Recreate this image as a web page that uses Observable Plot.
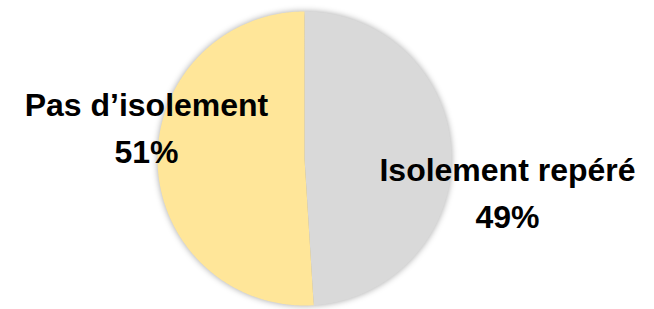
<!DOCTYPE html>
<html>
<head>
<meta charset="utf-8">
<script src="https://cdn.jsdelivr.net/npm/d3@7"></script>
<script src="https://cdn.jsdelivr.net/npm/@observablehq/plot@0.6"></script>
<style>
  html, body { margin: 0; padding: 0; background: #fff; }
  #chart { width: 654px; height: 309px; }
</style>
</head>
<body>
<div id="chart"></div>
<script>
// Data
const categories = ["Isolement repéré", "Pas d'isolement"];
const labelsText = ["Isolement repéré", "Pas d\u2019isolement"];
const values = [49, 51];
const colors = ["#D9D9D9", "#FFE699"];

// Layout constants (label placement relative to slice mid-angle)
const labelRadius = [1.397, 1.0996];
const labelAngleOffset = [10.5, 13.9];

const rows = categories.map((c, i) => ({category: c, label: labelsText[i], value: values[i], color: colors[i]}));
const arcs = d3.pie().sort(null).value(d => d.value)(rows);

function wedge(a0, a1) {
  const pts = [[0, 0]];
  const n = Math.max(2, Math.ceil((a1 - a0) / (Math.PI / 360)));
  for (let k = 0; k <= n; k++) {
    const a = a0 + (a1 - a0) * k / n;
    pts.push([Math.sin(a), Math.cos(a)]);
  }
  pts.push([0, 0]);
  return pts;
}

const features = arcs.map(a => ({
  type: "Feature",
  properties: a.data,
  geometry: {type: "Polygon", coordinates: [wedge(a.startAngle, a.endAngle)]}
}));

const labelData = arcs.map((a, i) => {
  const mid = (a.startAngle + a.endAngle) / 2 + labelAngleOffset[i] * Math.PI / 180;
  return {
    x: labelRadius[i] * Math.sin(mid),
    y: labelRadius[i] * Math.cos(mid),
    text: `${a.data.label}\n${a.data.value}%`
  };
});

const circle = {type: "Polygon", coordinates: [wedge(0, 2 * Math.PI).slice(1, -1).concat([[0, 1]])]};

const chart = Plot.plot({
  width: 654,
  height: 309,
  marginLeft: 157,
  marginRight: 203,
  marginTop: 11,
  marginBottom: 4,
  projection: {type: "reflect-y", domain: circle, clip: false},
  marks: [
    Plot.geo(features, {fill: d => d.properties.color, stroke: "none"}),
    Plot.text(labelData, {
      x: "x", y: "y", text: "text",
      fontSize: 32, fontWeight: "bold", fill: "#000",
      lineHeight: 1.45,
      fontFamily: "'Liberation Sans', Arial, sans-serif"
    })
  ]
});

d3.select(chart).selectAll("g[aria-label=geo]")
  .style("filter", "drop-shadow(0px 0px 3px rgba(0,0,0,0.35))");

document.getElementById("chart").appendChild(chart);
</script>
</body>
</html>
